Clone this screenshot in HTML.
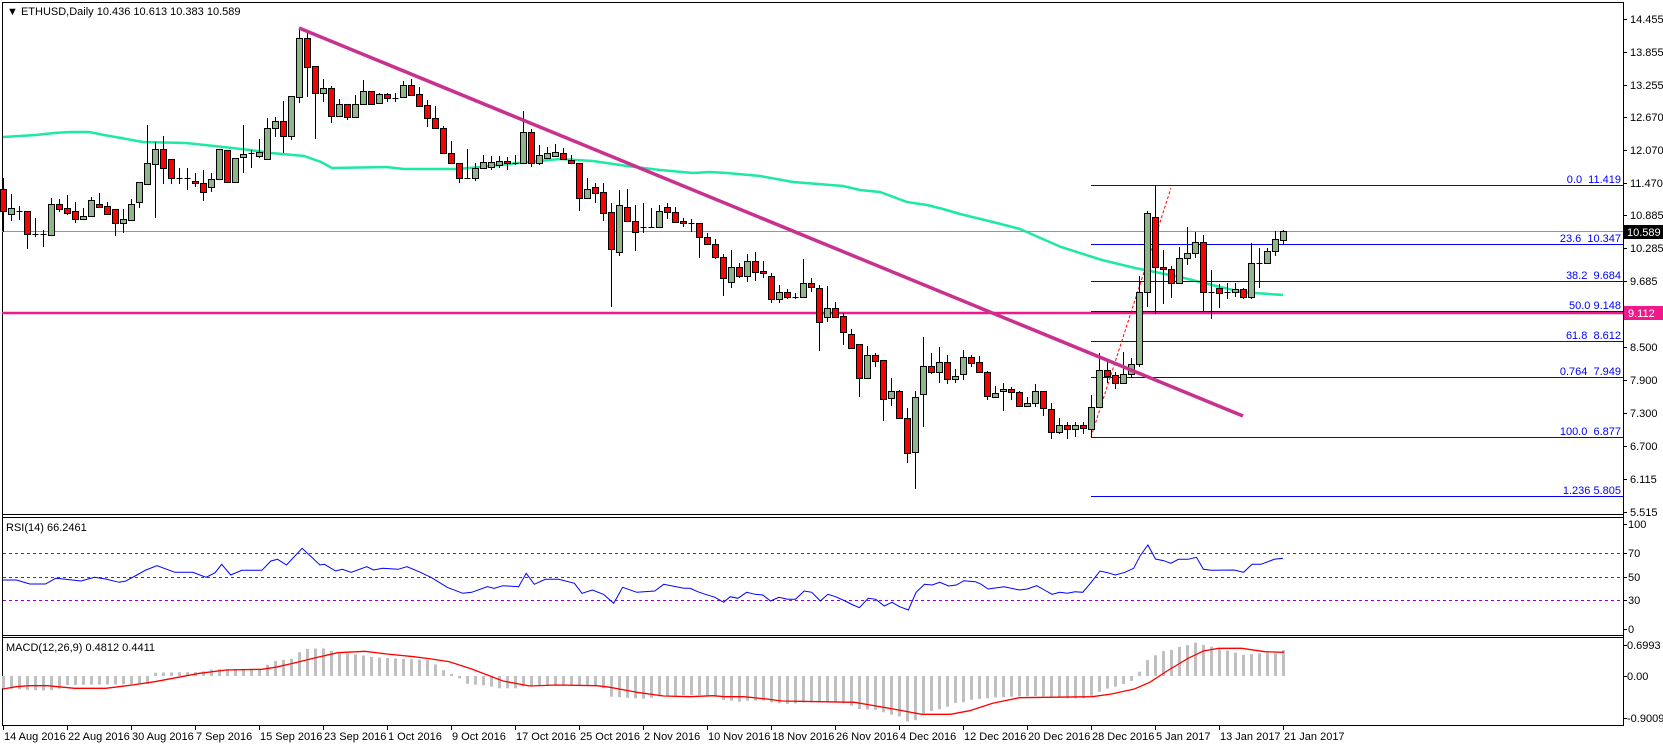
<!DOCTYPE html>
<html><head><meta charset="utf-8">
<style>
html,body{margin:0;padding:0;background:#fff;}
svg{display:block;font-family:"Liberation Sans",sans-serif;font-size:11px;}
</style></head>
<body>
<svg id="c" width="1663" height="746" xmlns="http://www.w3.org/2000/svg"></svg>
<script>
var S=document.getElementById('c'),h='';
function L(x1,y1,x2,y2,c,w,extra){h+='<line x1="'+x1+'" y1="'+y1+'" x2="'+x2+'" y2="'+y2+'" stroke="'+c+'" stroke-width="'+(w||1)+'" '+(extra||'')+'/>';}
function T(x,y,t,c,anchor){h+='<text x="'+x+'" y="'+y+'" fill="'+(c||'#000')+'"'+(anchor?' text-anchor="'+anchor+'"':'')+'>'+t+'</text>';}
function P(pts,c,w,extra){h+='<polyline fill="none" stroke="'+c+'" stroke-width="'+w+'" '+(extra||'')+' points="'+pts.map(function(p){return p[0]+','+p[1]}).join(' ')+'"/>';}
var AX=1623;
L(2.5,2.5,AX,2.5,'#000');L(2.5,2,2.5,726,'#000');L(AX+.5,2,AX+.5,726,'#000');
L(2,514.5,AX,514.5,'#000');L(2,517.5,AX,517.5,'#000');
L(2,635.5,AX,635.5,'#000');L(2,637.5,AX,637.5,'#000');
L(2,725.5,AX,725.5,'#000');
var pl=[['14.455',19],['13.855',52],['13.255',85],['12.670',117],['12.070',150],['11.470',183],['10.885',215],['10.285',248],['9.685',281],['8.500',347],['7.900',380],['7.300',413],['6.700',446],['6.115',479],['5.515',512]];
pl.forEach(function(p){L(AX,p[1]+.5,AX+4,p[1]+.5,'#000');T(AX+7,p[1]+4,p[0]);});
[['100',524],['70',553],['50',577],['30',600],['0',629]].forEach(function(p){L(AX,p[1]+.5,AX+4,p[1]+.5,'#000');T(AX+5,p[1]+4,p[0]);});
[['0.6993',645],['0.00',676],['-0.9009',718]].forEach(function(p){L(AX,p[1]+.5,AX+4,p[1]+.5,'#000');T(AX+4,p[1]+4,p[0]);});
var dl=['14 Aug 2016','22 Aug 2016','30 Aug 2016','7 Sep 2016','15 Sep 2016','23 Sep 2016','1 Oct 2016','9 Oct 2016','17 Oct 2016','25 Oct 2016','2 Nov 2016','10 Nov 2016','18 Nov 2016','26 Nov 2016','4 Dec 2016','12 Dec 2016','20 Dec 2016','28 Dec 2016','5 Jan 2017','13 Jan 2017','21 Jan 2017'];
dl.forEach(function(t,i){var x=3+64*i;L(x+.5,726,x+.5,730,'#000');T(x+1,740,t);});
T(7,15,'\u25BC ETHUSD,Daily  10.436 10.613 10.383 10.589');
P([[3,137],[36,135],[54,133],[71,132],[89,132],[104,135],[121,138],[143,142],[186,143],[214,146],[250,150],[271,153],[304,156],[321,162],[332,168],[386,167],[404,169],[457,169],[482,167],[518,163],[560,159],[593,161],[627,166],[660,170],[693,173],[710,172],[727,173],[760,176],[793,182],[843,186],[860,190],[880,192],[907,202],[927,205],[943,209],[960,214],[993,222],[1020,229],[1061,247],[1102,260],[1135,268],[1155,272],[1184,278],[1204,283],[1241,292],[1283,295]],'#1de9a0',2.5);
L(2,231.5,AX,231.5,'#8c9aa0');
L(2,313,AX,313,'#ee1a8c',2.5);
var fb=[['0.0\u00a0\u00a011.419',185],['23.6\u00a0\u00a010.347',244],['38.2\u00a0\u00a09.684',281],['50.0\u00a09.148',311],['61.8\u00a0\u00a08.612',341],['0.764\u00a0\u00a07.949',377],['100.0\u00a0\u00a06.877',437],['1.236\u00a05.805',496]];
fb.forEach(function(f){L(1091,f[1]+.5,AX,f[1]+.5,'#0000ff');T(1621,f[1]-2,f[0],'#0000ff','end');});
L(1091,437,1171,188,'#ff0000',1,'stroke-dasharray="3,2"');
var C=[
[0,'r',189,211,178,232],[1,'g',208,214,194,221],[2,'d',211,211,206,220],[3,'r',211,234,211,249],[4,'d',234,234,218,237],[5,'d',234,234,230,247],[6,'g',204,235,198,235],[7,'r',204,209,199,212],[8,'r',208,213,195,215],[9,'r',211,219,202,223],
[10,'g',216,219,208,220],[11,'g',200,216,197,217],[12,'r',204,207,193,208],[13,'r',206,214,202,214],[14,'r',209,223,209,236],[15,'g',219,223,209,233],[16,'g',204,220,199,221],[17,'g',182,202,182,208],[18,'g',163,184,125,184],[19,'g',149,164,142,218],
[20,'r',149,168,136,184],[21,'r',159,178,159,184],[22,'d',178,178,168,184],[23,'d',178,178,168,190],[24,'r',181,183,173,187],[25,'r',183,192,170,201],[26,'g',179,187,173,192],[27,'g',149,179,149,179],[28,'r',150,182,150,183],[29,'g',158,182,158,182],
[30,'g',154,157,125,173],[31,'d',153,153,150,168],[32,'g',152,156,139,158],[33,'g',128,159,118,159],[34,'g',121,128,117,137],[35,'r',121,136,101,153],[36,'g',96,136,96,140],[37,'g',38,97,28,103],[38,'r',38,67,33,97],[39,'r',66,93,66,139],
[40,'g',88,93,79,102],[41,'r',88,116,86,123],[42,'g',104,116,99,117],[43,'r',104,117,104,120],[44,'g',104,117,95,117],[45,'g',91,104,80,104],[46,'r',91,104,91,104],[47,'g',94,103,93,104],[48,'r',94,98,93,102],[49,'d',98,98,93,102],
[50,'g',85,97,81,97],[51,'r',85,95,79,96],[52,'r',94,106,87,106],[53,'r',105,118,100,127],[54,'r',118,128,106,129],[55,'r',128,153,126,153],[56,'r',153,163,141,163],[57,'r',163,178,163,183],[58,'d',178,178,149,178],[59,'g',168,178,163,181],
[60,'g',162,168,155,168],[61,'g',162,167,156,170],[62,'g',161,165,156,168],[63,'r',161,163,157,170],[64,'d',163,163,155,165],[65,'g',132,163,111,163],[66,'r',132,163,129,167],[67,'g',155,163,145,165],[68,'g',153,158,147,159],[69,'g',152,156,144,157],
[70,'r',153,159,148,160],[71,'r',160,163,155,163],[72,'r',163,198,163,211],[73,'g',189,198,178,198],[74,'r',187,193,183,203],[75,'r',192,213,183,221],[76,'r',212,249,203,307],[77,'g',205,252,190,256],[78,'r',207,221,189,222],[79,'r',221,232,205,251],
[80,'d',227,227,203,233],[81,'d',227,227,208,227],[82,'g',211,227,205,227],[83,'r',207,212,203,219],[84,'r',212,222,207,222],[85,'r',221,223,218,227],[86,'d',223,223,219,232],[87,'r',223,237,223,258],[88,'r',237,244,233,244],[89,'r',244,257,239,259],
[90,'r',257,278,254,296],[91,'g',267,282,250,288],[92,'r',267,276,263,278],[93,'g',261,276,254,282],[94,'r',261,272,252,281],[95,'r',271,273,261,278],[96,'r',276,299,273,303],[97,'g',292,299,285,303],[98,'r',292,297,289,299],[99,'d',297,297,293,299],
[100,'g',283,297,259,297],[101,'r',283,287,278,292],[102,'r',288,322,285,351],[103,'g',308,317,286,322],[104,'r',308,317,302,317],[105,'r',316,332,313,345],[106,'r',334,348,329,348],[107,'r',344,378,344,397],[108,'g',355,378,346,379],[109,'r',355,361,353,367],
[110,'r',360,399,360,421],[111,'g',391,398,378,406],[112,'r',391,418,390,418],[113,'r',418,453,408,463],[114,'g',397,452,391,489],[115,'g',366,394,337,427],[116,'r',366,372,353,374],[117,'g',362,372,347,383],[118,'r',362,379,355,384],[119,'g',376,379,369,383],
[120,'g',357,374,350,380],[121,'r',357,363,355,367],[122,'r',362,372,356,372],[123,'r',372,396,371,400],[124,'g',393,397,386,397],[125,'g',389,391,383,411],[126,'r',389,392,387,400],[127,'r',392,406,391,407],[128,'g',403,406,397,407],[129,'g',391,403,384,407],
[130,'r',391,408,391,416],[131,'r',409,432,403,439],[132,'g',425,432,418,434],[133,'r',425,429,422,439],[134,'g',425,429,422,437],[135,'r',425,428,422,434],[136,'g',407,429,395,437],[137,'g',370,407,353,408],[138,'r',370,376,361,383],[139,'r',375,383,372,389],
[140,'g',374,383,352,383],[141,'g',364,374,358,378],[142,'g',292,364,276,367],[143,'g',213,292,211,307],[144,'r',217,267,185,314],[145,'r',267,269,250,304],[146,'r',269,283,266,298],[147,'g',258,283,247,284],[148,'g',253,258,227,265],[149,'g',242,253,232,258],
[150,'r',242,292,235,311],[151,'d',292,292,270,319],[152,'r',288,293,284,308],[153,'d',292,292,283,299],[154,'g',289,292,283,297],[155,'r',289,297,288,299],[156,'g',263,297,243,299],[157,'d',263,263,248,288],[158,'g',251,263,248,264],[159,'g',239,251,231,256],[160,'g',231,240,230,244]];
C.forEach(function(c){var x=3+8*c[0]+.5;L(x,c[4],x,c[5],'#000');
 if(c[1]=='d'||c[3]-c[2]<2){L(x-3,c[2]+.5,x+3,c[2]+.5,'#000');}
 else{h+='<rect x="'+(x-3)+'" y="'+(c[2]+.5)+'" width="6" height="'+(c[3]-c[2])+'" fill="'+(c[1]=='g'?'#8fb58a':'#ff0000')+'" stroke="#000" stroke-width="1"/>';}
});
L(299,28,1243,416,'#c8318f',3.5);
h+='<rect x="1624" y="225" width="39" height="14" fill="#000"/>';T(1627,236,'10.589','#fff');
h+='<rect x="1624" y="306" width="39" height="14" fill="#ee1a8c"/>';T(1628,317,'9.112','#fff');
T(6,531,'RSI(14) 66.2461');
[553,577,600].forEach(function(y){L(3,y+.5,AX,y+.5,'#9400d3',1,'stroke-dasharray="3,3"');});
var r3=[[0,300],[30,300],[60,312],[95,312],[118,295],[140,298],[175,303],[205,292],[230,297],[260,307],[275,303],[300,285],[320,270],[345,257],[385,277],[425,277],[455,292],[475,278],[490,253],[510,285],[535,271],[580,271],[600,243],[615,238],[635,255],[670,205],[710,255],[720,253],[745,273],[760,268],[780,277],[815,260],[830,270],[850,265],[885,268],[905,260],[935,277],[960,293],[995,322],[1030,340],[1050,337],[1085,320],[1100,325],[1120,317],[1155,320],[1172,280],[1190,313],[1215,298],[1245,298],[1280,310],[1297,340],[1320,330],[1345,343],[1368,370],[1388,322],[1420,337],[1460,333],[1480,313],[1525,325]].map(function(p){return [(3+p[0]/2.24).toFixed(1),(480+p[1]/3).toFixed(1)]});
var r9=[[0,295],[20,305],[40,313],[65,322],[88,337],[105,320],[125,325],[148,307],[170,313],[190,315],[210,333],[232,322],[255,328],[275,328],[298,303],[318,307],[340,333],[360,313],[380,320],[405,333],[420,342],[442,353],[465,325],[485,328],[507,348],[527,337],[547,350],[570,360],[590,307],[612,283],[632,285],[652,277],[675,288],[695,285],[715,272],[745,275],[760,283],[778,297],[820,290],[860,300],[880,297],[905,287],[925,300],[945,313],[965,307],[985,310],[1005,305],[1025,307],[1045,280],[1070,243],[1090,248],[1110,255],[1135,247],[1158,235],[1175,197],[1195,165],[1215,207],[1237,212],[1255,220],[1275,208],[1300,208],[1322,202],[1340,238],[1360,241],[1420,240],[1445,247],[1467,223],[1490,223],[1525,208],[1548,205]].map(function(p){return [(690+p[0]/2.61).toFixed(1),(490+p[1]/3).toFixed(1)]});
P(r3.concat(r9),'#0000ff',1);
T(6,651,'MACD(12,26,9) 0.4812 0.4411');
var hp3=[[0,625],[60,630],[100,632],[130,625],[140,615],[330,612],[340,578],[440,576],[470,568],[580,566],[600,545],[650,535],[670,507],[720,505],[740,515],[800,525],[830,532],[950,540],[970,555],[990,575],[1010,585],[1040,612],[1090,618],[1100,625],[1150,625],[1170,617],[1340,618],[1360,650],[1440,657],[1460,650],[1568,645]].map(function(p){return [3+p[0]/2.24,480+p[1]/3]});
var hp9=[[0,615],[22,615],[45,620],[65,620],[85,630],[105,632],[128,635],[150,632],[190,632],[210,637],[232,640],[255,642],[275,640],[298,637],[380,637],[400,640],[420,647],[440,657],[485,660],[507,668],[527,675],[547,680],[567,695],[590,690],[610,668],[632,662],[652,657],[672,650],[695,637],[715,637],[737,628],[777,625],[797,622],[900,618],[940,620],[985,625],[1025,625],[1045,622],[1068,605],[1090,595],[1110,590],[1130,582],[1152,572],[1172,545],[1193,510],[1215,495],[1235,483],[1255,480],[1278,470],[1298,465],[1320,457],[1340,465],[1360,470],[1380,475],[1402,482],[1422,488],[1445,495],[1465,492],[1485,490],[1505,488],[1528,490],[1548,480]].map(function(p){return [690+p[0]/2.61,490+p[1]/3]});
var hp=hp3.filter(function(p){return p[0]<690}).concat(hp9);
function interp(a,x){for(var i=1;i<a.length;i++){if(a[i][0]>=x){var t=(x-a[i-1][0])/(a[i][0]-a[i-1][0]);return a[i-1][1]+t*(a[i][1]-a[i-1][1]);}}return a[a.length-1][1];}
for(var d=0;d<=160;d++){var x=3+8*d,y=interp(hp,x);var t=Math.min(y,676),b=Math.max(y,676);if(b-t<1){t=675;b=677;}h+='<rect x="'+(x-1)+'" y="'+t.toFixed(1)+'" width="3" height="'+(b-t).toFixed(1)+'" fill="#c0c0c0"/>';}
var m3=[[0,627],[30,620],[60,617],[100,617],[160,625],[230,625],[290,615],[340,605],[400,590],[440,580],[500,570],[580,568],[610,562],[650,550],[700,533],[750,518],[810,514],[860,522],[920,530],[960,537],[1000,545],[1050,567],[1120,603],[1180,618],[1240,615],[1330,617],[1360,622],[1420,637],[1480,648]].map(function(p){return [(3+p[0]/2.24).toFixed(1),(480+p[1]/3).toFixed(1)]});
var m9=[[0,620],[60,617],[90,620],[140,620],[200,627],[240,633],[340,635],[430,637],[470,645],[530,657],[605,673],[680,673],[730,662],[790,640],[860,623],[1050,620],[1100,612],[1160,597],[1200,577],[1245,543],[1300,505],[1340,483],[1380,475],[1440,475],[1500,485],[1550,487]].map(function(p){return [(690+p[0]/2.61).toFixed(1),(490+p[1]/3).toFixed(1)]});
P(m3.concat(m9),'#ff0000',1.3);
S.innerHTML=h;
</script>
</body></html>
